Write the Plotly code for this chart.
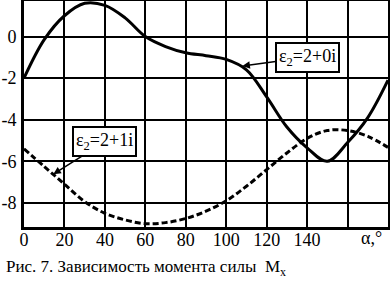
import plotly.graph_objects as go

# Data
alpha = [0, 10, 20, 30, 40, 50, 60, 70, 80, 90, 100, 110, 120, 130, 140, 150, 160, 170, 180]
m_2_0i = [-2.0, -0.15, 1.0, 1.6, 1.5, 0.9, 0.0, -0.48, -0.78, -0.92, -1.1, -1.6, -2.9, -4.35, -5.35, -6.0, -5.1, -3.9, -2.1]
m_2_1i = [-5.4, -6.25, -7.1, -7.94, -8.5, -8.82, -9.0, -8.95, -8.75, -8.4, -7.9, -7.2, -6.4, -5.6, -4.9, -4.52, -4.52, -4.8, -5.33]

x_tickvals = [0, 20, 40, 60, 80, 100, 120, 140, 160, 180]
x_ticktext = ["0", "20", "40", "60", "80", "100", "120", "140", "", ""]
y_tickvals = [0, -2, -4, -6, -8]
y_ticktext = ["0", "-2", "-4", "-6", "-8"]

label_a = "ε<sub>2</sub>=2+0i"
label_b = "ε<sub>2</sub>=2+1i"
caption = "Рис. 7. Зависимость момента силы  M<sub>x</sub>"
x_title = "α,°"

SERIF = "Liberation Serif"


def f(size=18):
    return dict(family=SERIF, size=size, color="black")


fig = go.Figure()
fig.add_trace(go.Scatter(x=alpha, y=m_2_0i, mode="lines",
                         line=dict(color="black", width=3, shape="spline", smoothing=1.0), showlegend=False))
fig.add_trace(go.Scatter(x=alpha, y=m_2_1i, mode="lines",
                         line=dict(color="black", width=3, dash="6px,3px", shape="spline", smoothing=1.0), showlegend=False))

fig.update_layout(
    width=390, height=283,
    margin=dict(l=24, r=2, t=1, b=56, autoexpand=False),
    plot_bgcolor="white", paper_bgcolor="white",
    font=dict(family=SERIF, color="black", size=18),
    xaxis=dict(
        range=[0, 180], tickmode="array", tickvals=x_tickvals, ticktext=x_ticktext,
        showgrid=True, gridcolor="#000000", gridwidth=2,
        showline=True, linecolor="black", linewidth=3, mirror=True,
        ticks="", zeroline=False, automargin=False, tickfont=f(18), ticklabelstandoff=-6,
    ),
    yaxis=dict(
        range=[-9.16, 1.71], tickmode="array", tickvals=y_tickvals, ticktext=y_ticktext,
        showgrid=True, gridcolor="#000000", gridwidth=2,
        showline=True, linecolor="black", linewidth=3, mirror=True,
        ticks="", zeroline=False, automargin=False, tickfont=f(18), ticklabelstandoff=1,
    ),
)

fig.add_annotation(x=108, y=-1.42, ax=140, ay=-1.0, axref="x", ayref="y",
                   text=label_a, showarrow=True, arrowhead=2, arrowsize=1, arrowwidth=1.5,
                   arrowcolor="black", bgcolor="white", bordercolor="black", borderwidth=2,
                   borderpad=2, font=f(18))
fig.add_annotation(x=14.5, y=-6.62, ax=40, ay=-5.05, axref="x", ayref="y",
                   text=label_b, showarrow=True, arrowhead=2, arrowsize=1, arrowwidth=1.5,
                   arrowcolor="black", bgcolor="white", bordercolor="black", borderwidth=2,
                   borderpad=2, font=f(18))

fig.add_annotation(x=172, y=-0.049, xref="x", yref="paper", text=x_title, showarrow=False,
                   yanchor="middle", font=f(18))
fig.add_annotation(x=-0.055, y=-0.18, xref="paper", yref="paper", text=caption, showarrow=False,
                   xanchor="left", yanchor="middle", font=f(17))

fig.write_html("out.html", config={"displayModeBar": False},
               post_script="document.body.style.margin='0';document.body.style.padding='0';")
